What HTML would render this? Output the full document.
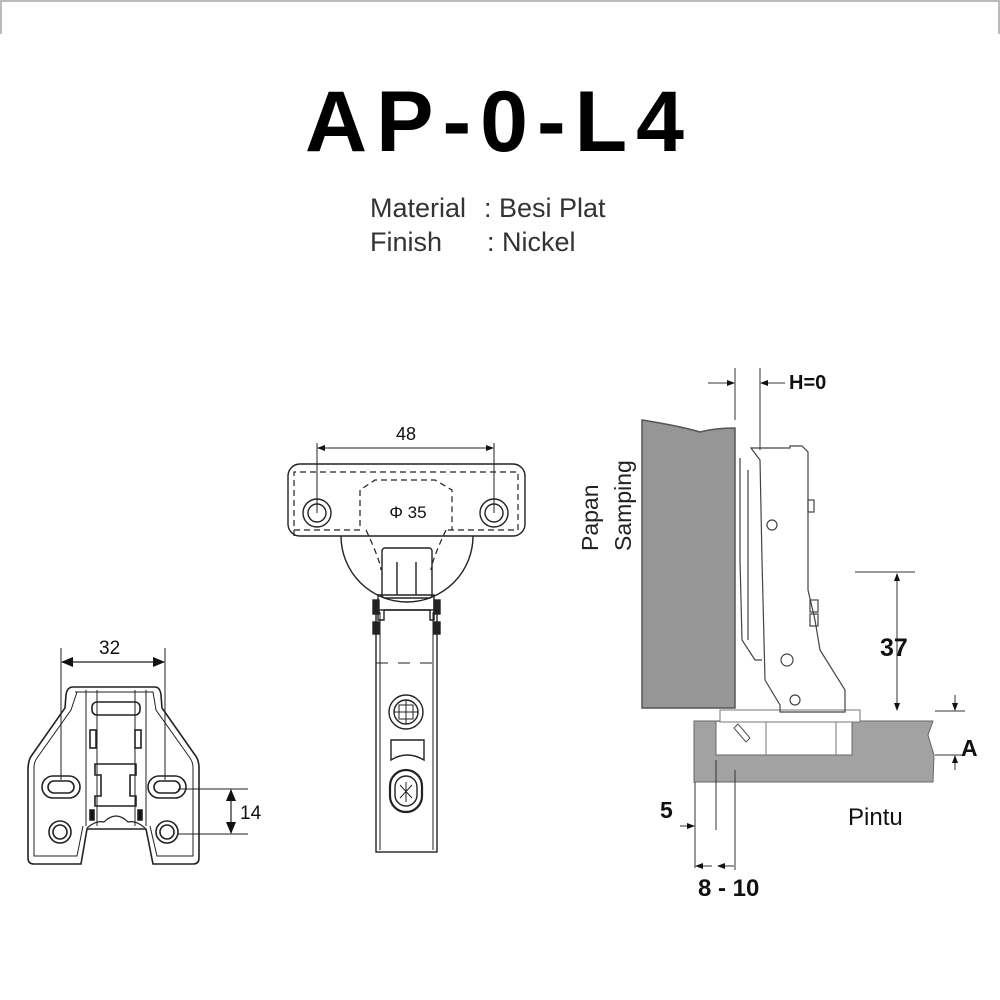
<!DOCTYPE html>
<html><head><meta charset="utf-8"><style>
html,body{margin:0;padding:0;background:#fff;}
svg{display:block;}
text{font-family:"Liberation Sans",sans-serif;}
</style></head><body>
<svg width="1000" height="1000" viewBox="0 0 1000 1000" xmlns="http://www.w3.org/2000/svg">
<defs>
<marker id="ar" markerWidth="8" markerHeight="8" refX="7" refY="4" orient="auto-start-reverse" markerUnits="userSpaceOnUse"><path d="M0,1 L8,4 L0,7 Z" fill="#111"/></marker>
<marker id="ab" markerWidth="12" markerHeight="12" refX="11" refY="6" orient="auto-start-reverse" markerUnits="userSpaceOnUse"><path d="M0,1 L12,6 L0,11 Z" fill="#111"/></marker>
</defs>
<path d="M1,34 V1 H999 V34" fill="none" stroke="#bbb" stroke-width="2"/>
<text x="499" y="151" font-size="86" font-weight="bold" text-anchor="middle" letter-spacing="9" fill="#000">AP-0-L4</text>
<text x="370" y="217" font-size="27" fill="#333">Material</text>
<text x="484" y="217" font-size="27" fill="#333">: Besi  Plat</text>
<text x="370" y="251" font-size="27" fill="#333">Finish</text>
<text x="487" y="251" font-size="27" fill="#333">: Nickel</text>

<g fill="none" stroke="#222" stroke-width="1.6">
<line x1="61" y1="648" x2="61" y2="780" stroke-width="1"/>
<line x1="165" y1="648" x2="165" y2="780" stroke-width="1"/>
<line x1="62" y1="662" x2="164" y2="662" stroke-width="1.2" marker-start="url(#ab)" marker-end="url(#ab)"/>
<path d="M73,687 H155 Q160,687 161,695 L162,708 L195,755 Q199,760 199,768 V858 Q199,864 193,864 H153 L146,829 H87 L81,864 H34 Q28,864 28,858 V770 Q28,760 32,755 L65,708 L66,695 Q67,687 73,687 Z"/>
<path d="M75,692 H153 L156,710 L190,758 Q193,762 193,768 V856 H157 L150,826 M77,692 L71,710 L37,758 Q34,762 34,768 V856 H77 L83,826" stroke-width="1"/>
<line x1="86" y1="690" x2="86" y2="826" stroke-width="1"/><line x1="146" y1="690" x2="146" y2="826" stroke-width="1"/>
<line x1="97" y1="690" x2="97" y2="826" stroke-width="1"/><line x1="135" y1="690" x2="135" y2="826" stroke-width="1"/>
<rect x="92" y="702" width="48" height="13" rx="5"/>
<rect x="90" y="730" width="6" height="18"/><rect x="135" y="730" width="6" height="18"/>
<path d="M95,764 H136 V775 H130 V796 H136 V806 H95 V796 H101 V775 H95 Z"/>
<path d="M87,828 Q96,820 104,822 Q116,810 128,822 Q136,820 145,828" stroke-width="1.2"/>
<rect x="90" y="810" width="4" height="10" fill="#111"/><rect x="138" y="810" width="4" height="10" fill="#111"/>
<rect x="42" y="776" width="38" height="22" rx="11"/><rect x="48" y="781" width="26" height="12" rx="6"/>
<rect x="148" y="776" width="38" height="22" rx="11"/><rect x="154" y="781" width="26" height="12" rx="6"/>
<circle cx="60" cy="832" r="11"/><circle cx="60" cy="832" r="7"/>
<circle cx="167" cy="832" r="11"/><circle cx="167" cy="832" r="7"/>
<line x1="178" y1="789" x2="248" y2="789" stroke-width="1"/>
<line x1="178" y1="834" x2="248" y2="834" stroke-width="1"/>
<line x1="231" y1="790" x2="231" y2="833" stroke-width="1.2" marker-start="url(#ab)" marker-end="url(#ab)"/>
</g>
<text x="99" y="654" font-size="19" fill="#111">32</text>
<text x="240" y="819" font-size="19" fill="#111">14</text>

<g fill="none" stroke="#222" stroke-width="1.4">
<line x1="317" y1="443" x2="317" y2="513" stroke-width="1"/>
<line x1="494" y1="443" x2="494" y2="513" stroke-width="1"/>
<line x1="318" y1="448" x2="493" y2="448" stroke-width="1" marker-start="url(#ar)" marker-end="url(#ar)"/>
<path d="M341,536 A65,65 0 0 0 473,536"/>
<rect x="288" y="464" width="237" height="72" rx="12"/>
<path d="M294,536 V472 H518 V530 H448 M294,530 H360 V490 L375,480 H435 L452,490 V530" stroke-dasharray="6,4" stroke-width="1.2"/>
<path d="M366,530 Q380,560 381,570 M446,530 Q432,560 431,570" stroke-dasharray="6,4" stroke-width="1.2"/>
<circle cx="317" cy="513" r="14"/><circle cx="317" cy="513" r="9"/>
<circle cx="494" cy="513" r="14"/><circle cx="494" cy="513" r="9"/>
<rect x="382" y="548" width="50" height="50" rx="3"/>
<line x1="397" y1="562" x2="397" y2="595"/><line x1="416" y1="562" x2="416" y2="595"/>
<path d="M378,595 H434 V620 L430,620 V610 H384 V620 H378 Z"/>
<rect x="373" y="600" width="6" height="14" fill="#222"/><rect x="434" y="600" width="6" height="14" fill="#222"/>
<rect x="373" y="622" width="6" height="12" fill="#222"/><rect x="434" y="622" width="6" height="12" fill="#222"/>
<rect x="376" y="610" width="61" height="242"/>
<line x1="380" y1="612" x2="380" y2="850" stroke-width="1"/><line x1="433" y1="612" x2="433" y2="850" stroke-width="1"/>
<line x1="376" y1="663" x2="437" y2="663" stroke-dasharray="12,10" stroke-width="1"/>
<circle cx="406" cy="712" r="17"/><circle cx="406" cy="712" r="12"/>
<path d="M399,705 H413 V719 H399 Z M406,700 V724 M394,712 H418" stroke-width="1"/>
<path d="M391,740 H424 V760 Q407,750 391,760 Z"/>
<rect x="390" y="770" width="32" height="42" rx="16" stroke-width="2.2"/>
<rect x="395" y="776" width="22" height="30" rx="11"/>
<path d="M400,785 L412,798 M412,785 L400,798 M406,782 V802" stroke-width="1"/>
</g>
<text x="406" y="440" font-size="18" text-anchor="middle" fill="#111">48</text>
<text x="408" y="518" font-size="17" text-anchor="middle" fill="#111">Φ 35</text>

<g>
<path d="M642,420 Q680,426 700,432 Q715,428 735,428 V708 H642 Z" fill="#969696" stroke="#555" stroke-width="1.5"/>
<path d="M694,721 H933 L928,735 L934,755 L933,782 H694 Z" fill="#a2a2a2" stroke="#666" stroke-width="1"/>
<rect x="716" y="722" width="136" height="33" fill="#fff"/>
<path d="M716,722 V755 H852 V722" fill="none" stroke="#666" stroke-width="1"/>
<line x1="766" y1="722" x2="766" y2="755" stroke="#777"/><line x1="836" y1="722" x2="836" y2="755" stroke="#777"/>
<rect x="720" y="710" width="140" height="12" fill="#fff" stroke="#777"/>
<path d="M734,728 L746,742 L750,738 L738,724 Z" fill="none" stroke="#555"/>
<g fill="none" stroke="#444" stroke-width="1.2">
<path d="M751,448 H790 V446 H802 L808,452 V590 L815,620 L820,650 L845,690 V712 H780 V705 L765,680 L762,560 L760,460 Z"/>
<path d="M740,458 V560 L742,640 L755,660 L762,660 M748,470 L748,640" />
<circle cx="772" cy="525" r="5"/><circle cx="787" cy="660" r="6"/><circle cx="795" cy="700" r="5"/>
<rect x="808" y="500" width="6" height="12"/><rect x="810" y="600" width="8" height="12"/><rect x="810" y="614" width="8" height="12"/>
</g>
<g stroke="#333" stroke-width="1" fill="none">
<line x1="735" y1="368" x2="735" y2="420"/><line x1="760" y1="368" x2="760" y2="450"/>
<line x1="708" y1="383" x2="734" y2="383" marker-end="url(#ar)"/>
<line x1="785" y1="383" x2="761" y2="383" marker-end="url(#ar)"/>
<line x1="855" y1="572" x2="915" y2="572"/>
<line x1="897" y1="574" x2="897" y2="710" marker-start="url(#ar)" marker-end="url(#ar)"/>
<line x1="935" y1="711" x2="965" y2="711"/><line x1="935" y1="755" x2="965" y2="755"/>
<line x1="955" y1="695" x2="955" y2="710" marker-end="url(#ar)"/>
<line x1="955" y1="770" x2="955" y2="756" marker-end="url(#ar)"/>
<line x1="695" y1="782" x2="695" y2="868"/><line x1="716" y1="760" x2="716" y2="830"/>
<line x1="735" y1="770" x2="735" y2="870"/>
<line x1="680" y1="826" x2="694" y2="826" marker-end="url(#ar)"/>
<line x1="696" y1="866" x2="712" y2="866" marker-start="url(#ar)"/>
<line x1="734" y1="866" x2="718" y2="866" marker-end="url(#ar)"/>
</g>
<text x="789" y="389" font-size="20" font-weight="bold" fill="#111">H=0</text>
<text x="880" y="656" font-size="25" font-weight="bold" fill="#111">37</text>
<text x="961" y="756" font-size="23" font-weight="bold" fill="#111">A</text>
<text x="660" y="818" font-size="23" font-weight="bold" fill="#111">5</text>
<text x="698" y="896" font-size="24" font-weight="bold" fill="#111">8 - 10</text>
<text x="848" y="825" font-size="24" fill="#111">Pintu</text>
<text transform="translate(598,551) rotate(-90)" font-size="23" fill="#222">Papan</text>
<text transform="translate(631,551) rotate(-90)" font-size="23" fill="#222">Samping</text>
</g>
</svg>
</body></html>
